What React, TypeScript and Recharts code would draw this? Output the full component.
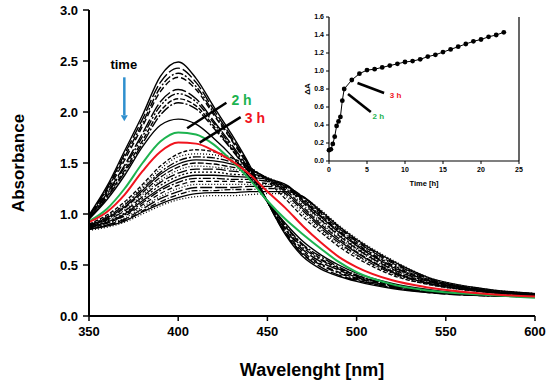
import { LineChart, Line, XAxis, YAxis, ReferenceLine, ReferenceDot } from 'recharts'

// wavelength grid (nm)
const wavelengths = [350, 360, 370, 380, 390, 400, 410, 420, 430, 440, 450, 460, 470, 480, 490, 500, 520, 540, 570, 600]

// first spectra (0 h .. 1.75 h), one row per spectrum
const earlySpectra = [
  [0.99, 1.27, 1.62, 1.97, 2.35, 2.49, 2.33, 2.05, 1.78, 1.48, 1.12, 0.80, 0.58, 0.46, 0.39, 0.34, 0.27, 0.23, 0.20, 0.19],
  [0.98, 1.25, 1.59, 1.93, 2.29, 2.43, 2.29, 2.02, 1.75, 1.47, 1.12, 0.81, 0.60, 0.48, 0.40, 0.35, 0.28, 0.23, 0.20, 0.19],
  [0.98, 1.24, 1.56, 1.89, 2.24, 2.38, 2.25, 1.99, 1.73, 1.46, 1.12, 0.82, 0.61, 0.50, 0.42, 0.36, 0.28, 0.24, 0.20, 0.19],
  [0.97, 1.22, 1.53, 1.86, 2.20, 2.34, 2.22, 1.97, 1.72, 1.45, 1.12, 0.83, 0.63, 0.51, 0.43, 0.37, 0.29, 0.24, 0.21, 0.19],
  [0.96, 1.20, 1.48, 1.79, 2.10, 2.22, 2.13, 1.91, 1.68, 1.43, 1.12, 0.85, 0.65, 0.53, 0.45, 0.38, 0.29, 0.24, 0.21, 0.19],
  [0.96, 1.19, 1.46, 1.76, 2.06, 2.18, 2.10, 1.89, 1.66, 1.42, 1.12, 0.86, 0.67, 0.55, 0.46, 0.39, 0.30, 0.25, 0.21, 0.19],
  [0.95, 1.17, 1.43, 1.72, 2.01, 2.13, 2.06, 1.86, 1.64, 1.41, 1.13, 0.88, 0.69, 0.56, 0.47, 0.40, 0.30, 0.25, 0.21, 0.19],
  [0.95, 1.16, 1.41, 1.69, 1.97, 2.09, 2.03, 1.84, 1.63, 1.40, 1.13, 0.89, 0.70, 0.58, 0.48, 0.40, 0.31, 0.25, 0.21, 0.19],
  [0.95, 1.14, 1.38, 1.66, 1.87, 1.93, 1.88, 1.74, 1.57, 1.36, 1.12, 0.91, 0.73, 0.60, 0.50, 0.42, 0.32, 0.26, 0.21, 0.19],
]

const spectrum2h = [0.93, 1.05, 1.25, 1.50, 1.71, 1.80, 1.78, 1.68, 1.52, 1.34, 1.13, 0.95, 0.80, 0.66, 0.53, 0.43, 0.31, 0.25, 0.21, 0.18]
const spectrum3h = [0.92, 1.02, 1.19, 1.42, 1.61, 1.70, 1.69, 1.62, 1.52, 1.39, 1.22, 1.06, 0.88, 0.72, 0.58, 0.48, 0.35, 0.28, 0.22, 0.19]

// later spectra (4 h .. 23 h): one row per wavelength, one column per spectrum
const lateSpectra = [
  [0.90, 0.90, 0.89, 0.89, 0.88, 0.88, 0.88, 0.87, 0.87, 0.87, 0.86, 0.86, 0.85, 0.85, 0.85, 0.84],
  [0.99, 0.98, 0.97, 0.96, 0.95, 0.95, 0.94, 0.93, 0.92, 0.91, 0.91, 0.90, 0.89, 0.89, 0.88, 0.87],
  [1.12, 1.10, 1.09, 1.07, 1.06, 1.04, 1.03, 1.01, 1.00, 0.99, 0.98, 0.96, 0.95, 0.94, 0.93, 0.92],
  [1.29, 1.27, 1.25, 1.23, 1.21, 1.19, 1.17, 1.15, 1.13, 1.11, 1.09, 1.07, 1.05, 1.03, 1.02, 1.00],
  [1.47, 1.44, 1.41, 1.39, 1.36, 1.33, 1.31, 1.28, 1.25, 1.23, 1.20, 1.17, 1.15, 1.12, 1.10, 1.08],
  [1.59, 1.56, 1.52, 1.49, 1.46, 1.43, 1.40, 1.37, 1.34, 1.31, 1.28, 1.25, 1.22, 1.19, 1.16, 1.14],
  [1.63, 1.59, 1.56, 1.53, 1.50, 1.47, 1.44, 1.41, 1.38, 1.35, 1.32, 1.29, 1.26, 1.23, 1.20, 1.17],
  [1.61, 1.58, 1.55, 1.52, 1.49, 1.46, 1.44, 1.41, 1.38, 1.35, 1.32, 1.29, 1.26, 1.23, 1.21, 1.18],
  [1.55, 1.53, 1.51, 1.49, 1.46, 1.44, 1.42, 1.39, 1.37, 1.34, 1.32, 1.29, 1.26, 1.24, 1.21, 1.18],
  [1.46, 1.46, 1.45, 1.44, 1.43, 1.41, 1.40, 1.38, 1.36, 1.34, 1.31, 1.29, 1.27, 1.24, 1.22, 1.19],
  [1.32, 1.33, 1.34, 1.35, 1.35, 1.36, 1.35, 1.35, 1.34, 1.32, 1.30, 1.29, 1.27, 1.25, 1.22, 1.20],
  [1.15, 1.18, 1.20, 1.22, 1.24, 1.26, 1.27, 1.28, 1.29, 1.29, 1.28, 1.27, 1.26, 1.24, 1.22, 1.20],
  [0.97, 1.00, 1.03, 1.05, 1.07, 1.09, 1.11, 1.12, 1.13, 1.14, 1.15, 1.16, 1.17, 1.17, 1.17, 1.16],
  [0.82, 0.84, 0.86, 0.88, 0.90, 0.92, 0.94, 0.95, 0.97, 0.98, 0.99, 1.00, 1.01, 1.02, 1.03, 1.04],
  [0.68, 0.70, 0.72, 0.74, 0.76, 0.77, 0.79, 0.80, 0.82, 0.83, 0.84, 0.85, 0.86, 0.87, 0.88, 0.89],
  [0.57, 0.59, 0.60, 0.62, 0.63, 0.65, 0.66, 0.67, 0.69, 0.70, 0.71, 0.72, 0.73, 0.74, 0.75, 0.76],
  [0.40, 0.41, 0.42, 0.43, 0.44, 0.45, 0.46, 0.47, 0.48, 0.49, 0.50, 0.51, 0.52, 0.53, 0.54, 0.55],
  [0.31, 0.31, 0.32, 0.32, 0.33, 0.33, 0.34, 0.34, 0.35, 0.35, 0.36, 0.36, 0.37, 0.37, 0.38, 0.38],
  [0.24, 0.24, 0.24, 0.24, 0.25, 0.25, 0.25, 0.25, 0.25, 0.26, 0.26, 0.26, 0.26, 0.26, 0.27, 0.27],
  [0.20, 0.20, 0.20, 0.20, 0.20, 0.21, 0.21, 0.21, 0.21, 0.21, 0.21, 0.21, 0.22, 0.22, 0.22, 0.22],
]

// inset: ΔA vs time
const times = [0, 0.25, 0.5, 0.75, 1, 1.25, 1.5, 1.75, 2, 3, 4, 5, 6, 7, 8, 9, 10, 11, 12, 13, 14, 15, 16, 17, 18, 19, 20, 21, 22, 23]
const deltaA = [0.12, 0.13, 0.19, 0.27, 0.39, 0.44, 0.49, 0.67, 0.80, 0.90, 0.97, 1.01, 1.02, 1.04, 1.06, 1.08, 1.10, 1.11, 1.13, 1.16, 1.18, 1.21, 1.24, 1.27, 1.30, 1.33, 1.35, 1.38, 1.40, 1.43]

const xTicks = [350, 400, 450, 500, 550, 600]
const yTicks = [0, 0.5, 1, 1.5, 2, 2.5, 3]
const insetXTicks = [0, 5, 10, 15, 20, 25]
const insetYTicks = [0, 0.2, 0.4, 0.6, 0.8, 1.0, 1.2, 1.4, 1.6]

const earlyDash = ['', '12 3', '8 2 2 2', '6 3', '14 3', '8 2 2 2 2 2', '5 2', '10 2 2 2', '']
const lateDash = ['4 2', '1 2', '8 2 2 2', '', '6 2', '1 2', '10 3', '2 2', '', '8 2 2 2', '5 3', '1 2', '12 3', '6 2 1 2', '', '1 2']

const GREEN = '#1db34f'
const RED = '#f0141e'
const BLUE = '#2f8fce'
const FONT = "'Liberation Sans', Arial, sans-serif"

const rows = wavelengths.map((wl, i) => {
  const row: Record<string, number> = { wl, g: spectrum2h[i], r: spectrum3h[i] }
  earlySpectra.forEach((s, k) => { row['e' + k] = s[i] })
  lateSpectra[i].forEach((v, k) => { row['l' + k] = v })
  return row
})

const insetRows = times.map((t, i) => ({ t, dA: deltaA[i] }))

const YTitle = ({ viewBox, text, dx, size }: any) => {
  const cx = viewBox.x + dx
  const cy = viewBox.y + viewBox.height / 2
  return (
    <text x={cx} y={cy} transform={`rotate(-90 ${cx} ${cy})`} textAnchor="middle"
      dominantBaseline="central" fontSize={size} fontWeight={700} fill="#000">{text}</text>
  )
}

const XTitle = ({ viewBox, text, dy, size }: any) => (
  <text x={viewBox.x + viewBox.width / 2} y={viewBox.y + dy} textAnchor="middle"
    dominantBaseline="central" fontSize={size} fontWeight={700} fill="#000">{text}</text>
)

const textShape = (value: string, color: string, size: number) => (p: any) => (
  <text x={p.cx} y={p.cy} textAnchor="middle" dominantBaseline="central"
    fontSize={size} fontWeight={700} fill={color}>{value}</text>
)

const arrowHead = (p: any) => (
  <path d={`M${p.cx - 3.5},${p.cy - 5} L${p.cx + 3.5},${p.cy - 5} L${p.cx},${p.cy + 1} Z`} fill={BLUE} />
)

function Inset() {
  const tickStyle = { fill: '#000', fontSize: 7, fontWeight: 700 }
  return (
    <LineChart width={250} height={195} data={insetRows} margin={{ top: 17, right: 21, bottom: 0, left: 0 }}>
      <XAxis dataKey="t" type="number" domain={[0, 25]} ticks={insetXTicks} height={34}
        tickSize={3} tickMargin={3} tick={tickStyle}
        axisLine={{ stroke: '#000', strokeWidth: 1.2 }} tickLine={{ stroke: '#000' }}
        label={<XTitle text="Time [h]" dy={22} size={7.5} />} />
      <YAxis type="number" domain={[0, 1.6]} ticks={insetYTicks} width={39}
        tickSize={3} tickMargin={2} tick={tickStyle}
        tickFormatter={(v: number) => v.toFixed(1)}
        axisLine={{ stroke: '#000', strokeWidth: 1.2 }} tickLine={{ stroke: '#000' }}
        label={<YTitle text="ΔA" dx={17} size={8} />} />
      <ReferenceLine x={25} stroke="#000" strokeWidth={1.2} />
      <Line dataKey="dA" stroke="#000" strokeWidth={1} isAnimationActive={false}
        dot={{ r: 2.4, fill: '#000', stroke: '#000', strokeWidth: 0 }} />
      <ReferenceLine segment={[{ x: 3.75, y: 0.867 }, { x: 7.25, y: 0.756 }]} stroke="#000" strokeWidth={2.6} />
      <ReferenceLine segment={[{ x: 2.5, y: 0.744 }, { x: 5.5, y: 0.544 }]} stroke="#000" strokeWidth={2.6} />
      <ReferenceDot x={8.75} y={0.733} r={0} shape={textShape('3 h', RED, 8)} />
      <ReferenceDot x={6.5} y={0.489} r={0} shape={textShape('2 h', GREEN, 8)} />
    </LineChart>
  )
}

export default function App() {
  const tickStyle = { fill: '#000', fontSize: 13, fontWeight: 700 }
  const axisLine = { stroke: '#000', strokeWidth: 2 }
  return (
    <div style={{ position: 'absolute', left: 0, top: 0, width: 550, height: 392, background: '#fff', fontFamily: FONT }}>
      <LineChart width={550} height={392} data={rows} margin={{ top: 10, right: 15, bottom: 0, left: 0 }}>
        <XAxis dataKey="wl" type="number" domain={[350, 600]} ticks={xTicks} height={76}
          tickSize={5} tickMargin={6} tick={tickStyle} axisLine={axisLine}
          tickLine={{ stroke: '#000', strokeWidth: 1.5 }}
          label={<XTitle text="Wavelenght [nm]" dy={54} size={18} />} />
        <XAxis xAxisId="top" orientation="top" dataKey="wl" type="number" domain={[350, 600]}
          height={0} tick={false} tickLine={false} axisLine={axisLine} />
        <YAxis type="number" domain={[0, 3]} ticks={yTicks} width={89}
          tickSize={6} tickMargin={5} tick={tickStyle} axisLine={axisLine}
          tickLine={{ stroke: '#000', strokeWidth: 1.5 }}
          tickFormatter={(v: number) => v.toFixed(1)}
          label={<YTitle text="Absorbance" dx={18} size={17} />} />
        <YAxis yAxisId="right" orientation="right" type="number" domain={[0, 3]}
          width={0} tick={false} tickLine={false} axisLine={axisLine} />

        {lateSpectra[0].map((_, k) => (
          <Line key={'l' + k} dataKey={'l' + k} type="monotone" stroke="#000" strokeWidth={1.3}
            strokeDasharray={lateDash[k] || undefined} dot={false} isAnimationActive={false} />
        ))}
        {earlySpectra.map((_, k) => (
          <Line key={'e' + k} dataKey={'e' + k} type="monotone" stroke="#000" strokeWidth={1.4}
            strokeDasharray={earlyDash[k] || undefined} dot={false} isAnimationActive={false} />
        ))}
        <Line dataKey="g" type="monotone" stroke={GREEN} strokeWidth={2} dot={false} isAnimationActive={false} />
        <Line dataKey="r" type="monotone" stroke={RED} strokeWidth={2} dot={false} isAnimationActive={false} />

        <ReferenceLine segment={[{ x: 405, y: 1.84 }, { x: 427, y: 2.09 }]} stroke="#000" strokeWidth={2.5} />
        <ReferenceLine segment={[{ x: 412, y: 1.70 }, { x: 435, y: 1.95 }]} stroke="#000" strokeWidth={2.5} />
        <ReferenceDot x={435.5} y={2.12} r={0} shape={textShape('2 h', GREEN, 14)} />
        <ReferenceDot x={443} y={1.94} r={0} shape={textShape('3 h', RED, 14)} />

        <ReferenceDot x={369.5} y={2.47} r={0} shape={textShape('time', '#000', 13)} />
        <ReferenceLine segment={[{ x: 369.8, y: 2.34 }, { x: 369.8, y: 1.97 }]} stroke={BLUE} strokeWidth={2.5} />
        <ReferenceDot x={369.8} y={1.92} r={0} shape={arrowHead} />
      </LineChart>
      <div style={{ position: 'absolute', left: 290, top: 0 }}>
        <Inset />
      </div>
    </div>
  )
}
